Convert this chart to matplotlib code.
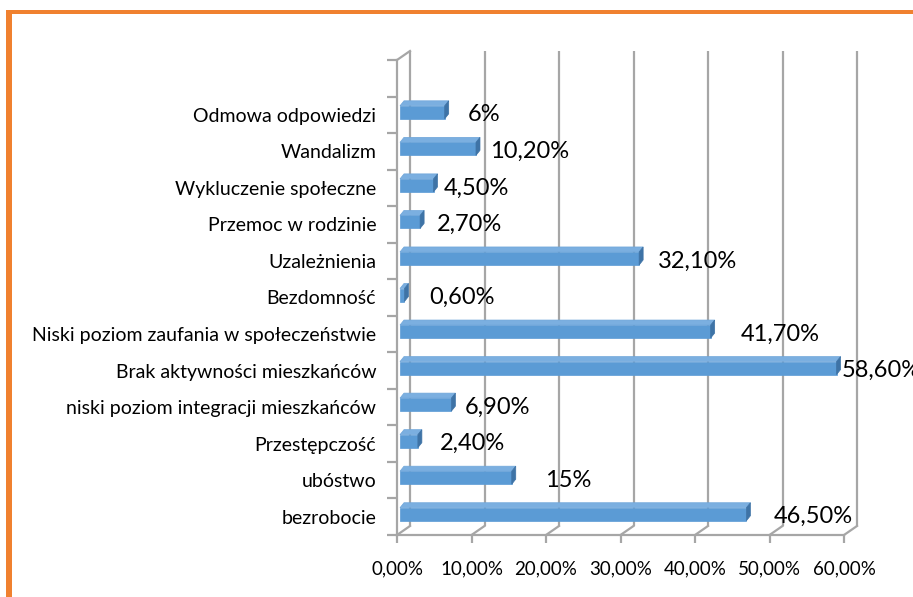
import matplotlib

matplotlib.use("Agg")
import matplotlib.pyplot as plt
import numpy as np
from matplotlib.patches import Polygon, Rectangle

plt.rcParams["font.family"] = ["Lato", "DejaVu Sans"]

# Dane (od góry do dołu)
kategorie = [
    "Odmowa odpowiedzi",
    "Wandalizm",
    "Wykluczenie społeczne",
    "Przemoc w rodzinie",
    "Uzależnienia",
    "Bezdomność",
    "Niski poziom zaufania w społeczeństwie",
    "Brak aktywności mieszkańców",
    "niski poziom integracji mieszkańców",
    "Przestępczość",
    "ubóstwo",
    "bezrobocie",
]
wartosci = [6.0, 10.2, 4.5, 2.7, 32.1, 0.6, 41.7, 58.6, 6.9, 2.4, 15.0, 46.5]
etykiety = ["6%", "10,20%", "4,50%", "2,70%", "32,10%", "0,60%",
            "41,70%", "58,60%", "6,90%", "2,40%", "15%", "46,50%"]
os_x = [0, 10, 20, 30, 40, 50, 60]
os_x_etykiety = ["0,00%", "10,00%", "20,00%", "30,00%", "40,00%", "50,00%", "60,00%"]

# przesunięcia etykiet wartości względem końca słupka (piksele)
przesuniecia_px = [23, 14, 10, 17, 19, 25, 30, 5, 13, 22, 33, 27]

W, H = 913, 597
fig = plt.figure(figsize=(W / 100, H / 100), dpi=100)

x_lewo, x_prawo = 397, 844
y_gora, y_dol = 60, 535
ax = fig.add_axes([x_lewo / W, (H - y_dol) / H, (x_prawo - x_lewo) / W, (y_dol - y_gora) / H])
ax.set_xlim(0, 60)
ax.set_ylim(-0.5, 12.5)
for s in ax.spines.values():
    s.set_visible(False)

sx = 60 / (x_prawo - x_lewo)
sy = 13 / (y_dol - y_gora)

szary = "#A6A6A6"
# tylna ściana (perspektywa 3D)
bdx, bdy = 13 * sx, 9 * sy
for xt in os_x:
    ax.plot([xt + bdx, xt + bdx], [-0.5 + bdy, 12.5 + bdy], color=szary, lw=1.6,
            clip_on=False, zorder=1, solid_capstyle="butt")
    ax.plot([xt, xt + bdx], [-0.5, -0.5 + bdy], color=szary, lw=1.6, clip_on=False, zorder=1)
ax.plot([0, 0], [-0.5, 12.5], color=szary, lw=1.6, clip_on=False, zorder=1)
ax.plot([0, bdx], [12.5, 12.5 + bdy], color=szary, lw=1.6, clip_on=False, zorder=1)
ax.plot([0, 60], [-0.5, -0.5], color=szary, lw=1.6, clip_on=False, zorder=1)

# słupki 3D
poz = np.arange(len(kategorie))[::-1]
wys = 13 * sy
przes_y = 2.5 * sy
start = 3 * sx
tdx, tdy = 4 * sx, 5 * sy
ax.barh(poz + przes_y, wartosci, height=wys, left=start, color="#5B9BD5",
        edgecolor="#5B9BD5", lw=0.5, zorder=3)
for p, v in zip(poz, wartosci):
    x0, x1 = start, start + v
    yt = p + przes_y + wys / 2
    yb = p + przes_y - wys / 2
    ax.add_patch(Polygon([(x0, yt), (x1, yt), (x1 + tdx, yt + tdy), (x0 + tdx, yt + tdy)],
                         closed=True, fc="#7BAFE0", ec="#6FA6DA", lw=0.5, zorder=3, clip_on=False))
    ax.add_patch(Polygon([(x1, yb), (x1 + tdx, yb + tdy), (x1 + tdx, yt + tdy), (x1, yt)],
                         closed=True, fc="#3E73A6", ec="#3E73A6", lw=0.5, zorder=3, clip_on=False))

for p, v, e, o in zip(poz, wartosci, etykiety, przesuniecia_px):
    ax.text(start + v + o * sx, p, e, fontsize=17, va="center", ha="left",
            color="black", zorder=4, clip_on=False)

# osie i podpisy
ax.set_yticks(poz)
ax.set_yticklabels(kategorie, fontsize=14)
ax.tick_params(axis="y", which="major", length=0, pad=15)
ax.set_yticks(np.arange(-0.5, 13, 1), minor=True)
ax.tick_params(axis="y", which="minor", length=7, width=1.6, color=szary)
ax.set_xticks(os_x)
ax.set_xticklabels(os_x_etykiety, fontsize=13.5)
ax.tick_params(axis="x", length=6, width=1.6, color=szary, pad=12)

# pomarańczowa ramka
fig.add_artist(Rectangle((6 / W, 0), 5.5 / W, (H - 10) / H, transform=fig.transFigure,
                         fc="#F0812F", ec="none"))
fig.add_artist(Rectangle((6 / W, (H - 13.5) / H), (W - 6) / W, 3.5 / H, transform=fig.transFigure,
                         fc="#F0812F", ec="none"))

fig.savefig("out.png", dpi=100)
